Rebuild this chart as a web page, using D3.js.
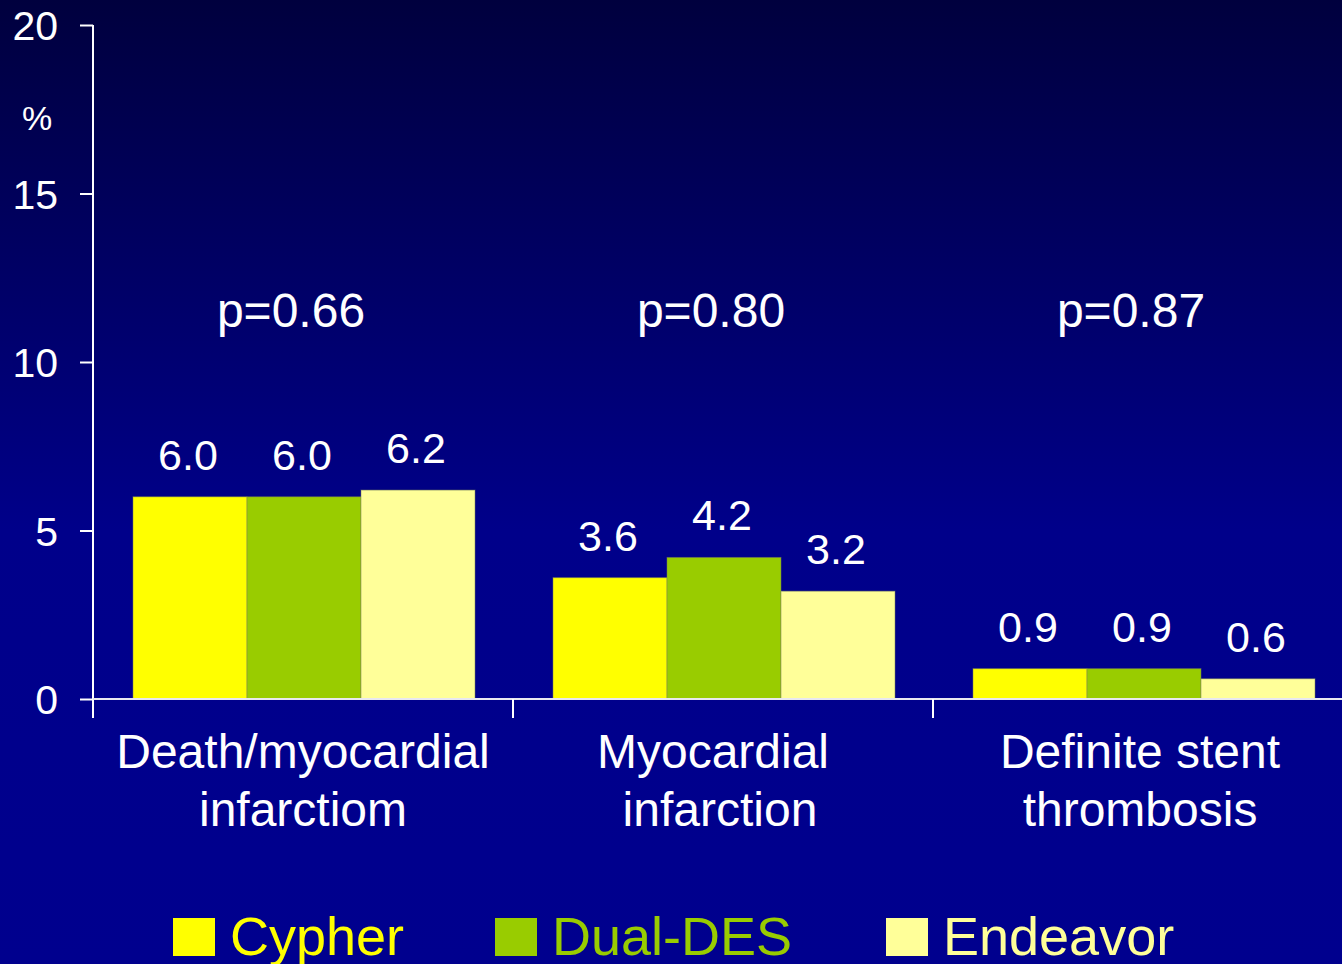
<!DOCTYPE html>
<html>
<head>
<meta charset="utf-8">
<script src="https://cdn.jsdelivr.net/npm/d3@7"></script>
<style>
  html, body { margin: 0; padding: 0; background: #00008c; overflow: hidden; }
  svg { display: block; font-family: "Liberation Sans", Arial, sans-serif; }
</style>
</head>
<body>
<svg id="chart" width="1342" height="964"></svg>
<script>
// Outcome categories (two-line labels) and the p-value for each comparison
const categories = ["Death/myocardial infarctiom", "Myocardial infarction", "Definite stent thrombosis"];
const categoryLines = [["Death/myocardial", "infarctiom"], ["Myocardial", "infarction"], ["Definite stent", "thrombosis"]];
const pValues = ["p=0.66", "p=0.80", "p=0.87"];

// Event rates (%) per stent group
const series = ["Cypher", "Dual-DES", "Endeavor"];
const cypher = [6.0, 3.6, 0.9];
const dualDes = [6.0, 4.2, 0.9];
const endeavor = [6.2, 3.2, 0.6];
const seriesValues = [cypher, dualDes, endeavor];
const seriesColors = ["#ffff00", "#99cc00", "#ffff99"];

const yTicks = [0, 5, 10, 15, 20];

const svg = d3.select("#chart");
const W = 1342, H = 964;

// background: dark navy fading to a brighter blue
const defs = svg.append("defs");
const grad = defs.append("linearGradient").attr("id", "bg").attr("x1", 0).attr("y1", 0).attr("x2", 0).attr("y2", 1);
grad.append("stop").attr("offset", "0%").attr("stop-color", "#00003e");
grad.append("stop").attr("offset", "55%").attr("stop-color", "#00008a");
grad.append("stop").attr("offset", "100%").attr("stop-color", "#00008e");
svg.append("rect").attr("width", W).attr("height", H).attr("fill", "url(#bg)");

const y = d3.scaleLinear().domain([0, 20]).range([699, 25]);
const x = d3.scaleBand().domain(categories).range([93, 1353]).padding(0);
const xs = d3.scaleBand().domain(series).range([40, 382]).padding(0);

// y axis
const yAxis = svg.append("g")
  .attr("transform", "translate(93,0)")
  .call(d3.axisLeft(y).tickValues(yTicks).tickSize(13).tickPadding(22).tickSizeOuter(0));
yAxis.select(".domain").attr("stroke", "#ffffff").attr("stroke-width", 2).attr("d", `M0,${y(20)}V718`);
yAxis.selectAll(".tick line").attr("stroke", "#ffffff").attr("stroke-width", 2);
yAxis.selectAll(".tick text").attr("fill", "#ffffff").attr("font-size", 41)
  .attr("font-family", "Liberation Sans, Arial, sans-serif").attr("dy", "0.36em");

svg.append("text").attr("x", 37).attr("y", 130).attr("text-anchor", "middle")
  .attr("fill", "#ffffff").attr("font-size", 34).text("%");

// per-category, per-line nudge of the two-line labels
const labelShift = [[0, 0], [-10, -3], [-3, -3]];

// bars
const groups = svg.append("g").selectAll("g")
  .data(categories)
  .join("g")
  .attr("transform", d => `translate(${x(d)},0)`);

groups.each(function(cat, ci) {
  const g = d3.select(this);
  series.forEach((s, si) => {
    const v = seriesValues[si][ci];
    g.append("rect")
      .attr("x", xs(s))
      .attr("y", y(v))
      .attr("width", xs.bandwidth())
      .attr("height", y(0) - y(v))
      .attr("fill", seriesColors[si])
      .attr("stroke", "rgba(120,130,90,0.5)")
      .attr("stroke-width", 1);
    g.append("text")
      .attr("x", xs(s) + xs.bandwidth() / 2 - 2)
      .attr("y", y(v) - 27)
      .attr("text-anchor", "middle")
      .attr("fill", "#ffffff")
      .attr("font-size", 43)
      .text(v.toFixed(1));
  });
  g.append("text")
    .attr("x", x.bandwidth() / 2 - 12)
    .attr("y", 327)
    .attr("text-anchor", "middle")
    .attr("fill", "#ffffff")
    .attr("font-size", 48)
    .text(pValues[ci]);
  const lab = g.append("text")
    .attr("text-anchor", "middle")
    .attr("fill", "#ffffff")
    .attr("font-size", 48);
  categoryLines[ci].forEach((line, li) => {
    lab.append("tspan").attr("x", x.bandwidth() / 2 + labelShift[ci][li]).attr("y", 768 + li * 58).text(line);
  });
});

// x axis line and category dividers
svg.append("line").attr("x1", 93).attr("x2", W).attr("y1", y(0)).attr("y2", y(0))
  .attr("stroke", "#e8e8f0").attr("stroke-width", 2);
svg.append("g").selectAll("line")
  .data(categories.slice(1))
  .join("line")
  .attr("x1", d => x(d)).attr("x2", d => x(d))
  .attr("y1", y(0)).attr("y2", 718)
  .attr("stroke", "#ffffff").attr("stroke-width", 2);

// legend
const legendX = [173, 495, 886];
const legend = svg.append("g").selectAll("g")
  .data(series)
  .join("g")
  .attr("transform", (d, i) => `translate(${legendX[i]},918)`);
legend.append("rect").attr("width", 42).attr("height", 38)
  .attr("fill", (d, i) => seriesColors[i]);
legend.append("text").attr("x", 57).attr("y", 37)
  .attr("fill", (d, i) => seriesColors[i])
  .attr("font-size", 54)
  .text(d => d);
</script>
</body>
</html>
